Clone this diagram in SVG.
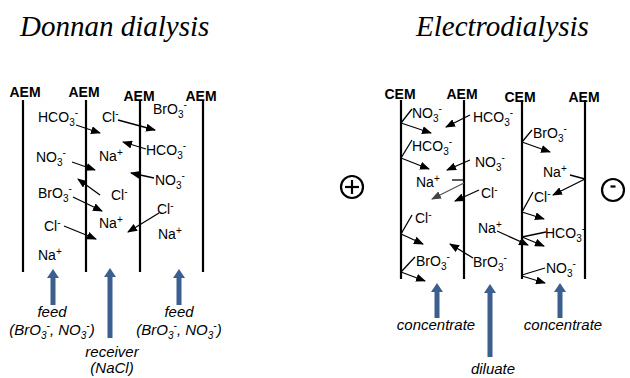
<svg xmlns="http://www.w3.org/2000/svg" width="630" height="378" viewBox="0 0 630 378">
<style>
.title{font-family:"Liberation Serif",serif;font-style:italic;font-size:29px;fill:#000}
.mem{font-family:"Liberation Sans",Arial,sans-serif;font-weight:bold;font-size:14px;text-anchor:middle;fill:#000}
.ion{font-family:"Liberation Sans",Arial,sans-serif;font-size:14px;fill:#000}
.s{font-size:10px}
.lbl{font-family:"Liberation Sans",Arial,sans-serif;font-style:italic;font-size:15px;text-anchor:middle;fill:#000}
.ml{stroke:#000;stroke-width:2.2;fill:none}
.c{stroke:#000;stroke-width:1.3;fill:none}
.ca{stroke:#000;stroke-width:1.3;fill:none;marker-end:url(#ah)}
.cg{stroke:#555;stroke-width:1.3;fill:none;marker-end:url(#ahg)}
.flow{fill:#3C5F90}
.sym{stroke:#000;stroke-width:2.2;fill:none}
</style>
<defs>
<marker id="ah" viewBox="0 0 10 8" refX="9" refY="4" markerWidth="10" markerHeight="8" markerUnits="userSpaceOnUse" orient="auto"><path d="M0,0 L10,4 L0,8 z" fill="#000"/></marker>
<marker id="ahg" viewBox="0 0 10 8" refX="9" refY="4" markerWidth="10" markerHeight="8" markerUnits="userSpaceOnUse" orient="auto"><path d="M0,0 L10,4 L0,8 z" fill="#444"/></marker>
</defs>

<g id="titles">
<text class="title" x="20" y="36">Donnan dialysis</text>
<text class="title" x="416" y="36">Electrodialysis</text>
</g>

<!-- Donnan membranes -->
<g id="dd-aem1"><text class="mem" x="25" y="97">AEM</text><line class="ml" x1="23" y1="100" x2="23" y2="272"/></g>
<g id="dd-aem2"><text class="mem" x="84" y="97">AEM</text><line class="ml" x1="86" y1="100" x2="86" y2="272"/></g>
<g id="dd-aem3"><text class="mem" x="139" y="101">AEM</text><line class="ml" x1="140" y1="100" x2="140" y2="272"/></g>
<g id="dd-aem4"><text class="mem" x="201" y="101">AEM</text><line class="ml" x1="203" y1="100" x2="203" y2="272"/></g>

<!-- Electrodialysis membranes -->
<g id="ed-cem1"><text class="mem" x="400" y="99">CEM</text><line class="ml" x1="401" y1="100" x2="401" y2="279"/></g>
<g id="ed-aem1"><text class="mem" x="462" y="99">AEM</text><line class="ml" x1="464" y1="100" x2="464" y2="279"/></g>
<g id="ed-cem2"><text class="mem" x="520" y="102">CEM</text><line class="ml" x1="522" y1="100" x2="522" y2="279"/></g>
<g id="ed-aem2"><text class="mem" x="584" y="102">AEM</text><line class="ml" x1="585" y1="100" x2="585" y2="279"/></g>

<g id="electrodes">
<g id="anode"><circle class="sym" cx="352" cy="187" r="11"/><line class="sym" x1="345" y1="187" x2="359" y2="187"/><line class="sym" x1="352" y1="180" x2="352" y2="194"/></g>
<g id="cathode"><circle class="sym" cx="613" cy="190" r="11"/><line class="sym" x1="610.5" y1="186.5" x2="615.5" y2="186.5"/></g>
</g>

<!-- Donnan ions -->
<g id="dd-ions">
<text class="ion" x="38" y="122">HCO<tspan class="s" dy="4">3</tspan><tspan class="s" dy="-10">-</tspan></text>
<text class="ion" x="102" y="122">Cl<tspan class="s" dy="-5">-</tspan></text>
<text class="ion" x="153" y="114">BrO<tspan class="s" dy="4">3</tspan><tspan class="s" dy="-10">-</tspan></text>
<text class="ion" x="36" y="162">NO<tspan class="s" dy="4">3</tspan><tspan class="s" dy="-10">-</tspan></text>
<text class="ion" x="99" y="161">Na<tspan class="s" dy="-5">+</tspan></text>
<text class="ion" x="146" y="155">HCO<tspan class="s" dy="4">3</tspan><tspan class="s" dy="-10">-</tspan></text>
<text class="ion" x="155" y="185">NO<tspan class="s" dy="4">3</tspan><tspan class="s" dy="-10">-</tspan></text>
<text class="ion" x="111" y="200">Cl<tspan class="s" dy="-5">-</tspan></text>
<text class="ion" x="38" y="198">BrO<tspan class="s" dy="4">3</tspan><tspan class="s" dy="-10">-</tspan></text>
<text class="ion" x="99" y="228">Na<tspan class="s" dy="-5">+</tspan></text>
<text class="ion" x="157" y="214">Cl<tspan class="s" dy="-5">-</tspan></text>
<text class="ion" x="158" y="239">Na<tspan class="s" dy="-5">+</tspan></text>
<text class="ion" x="44" y="231">Cl<tspan class="s" dy="-5">-</tspan></text>
<text class="ion" x="38" y="260">Na<tspan class="s" dy="-5">+</tspan></text>
</g>

<!-- Electrodialysis ions -->
<g id="ed-ions">
<text class="ion" x="412" y="118">NO<tspan class="s" dy="4">3</tspan><tspan class="s" dy="-10">-</tspan></text>
<text class="ion" x="412" y="151">HCO<tspan class="s" dy="4">3</tspan><tspan class="s" dy="-10">-</tspan></text>
<text class="ion" x="416" y="187">Na<tspan class="s" dy="-5">+</tspan></text>
<text class="ion" x="415" y="223">Cl<tspan class="s" dy="-5">-</tspan></text>
<text class="ion" x="416" y="266">BrO<tspan class="s" dy="4">3</tspan><tspan class="s" dy="-10">-</tspan></text>
<text class="ion" x="473" y="122">HCO<tspan class="s" dy="4">3</tspan><tspan class="s" dy="-10">-</tspan></text>
<text class="ion" x="475" y="167">NO<tspan class="s" dy="4">3</tspan><tspan class="s" dy="-10">-</tspan></text>
<text class="ion" x="481" y="198">Cl<tspan class="s" dy="-5">-</tspan></text>
<text class="ion" x="478" y="233">Na<tspan class="s" dy="-5">+</tspan></text>
<text class="ion" x="473" y="267">BrO<tspan class="s" dy="4">3</tspan><tspan class="s" dy="-10">-</tspan></text>
<text class="ion" x="533" y="138">BrO<tspan class="s" dy="4">3</tspan><tspan class="s" dy="-10">-</tspan></text>
<text class="ion" x="543" y="177">Na<tspan class="s" dy="-5">+</tspan></text>
<text class="ion" x="534" y="202">Cl<tspan class="s" dy="-5">-</tspan></text>
<text class="ion" x="545" y="238">HCO<tspan class="s" dy="4">3</tspan><tspan class="s" dy="-10">-</tspan></text>
<text class="ion" x="546" y="273">NO<tspan class="s" dy="4">3</tspan><tspan class="s" dy="-10">-</tspan></text>
</g>

<g id="connectors">
<!-- Donnan -->
<line class="ca" x1="76" y1="125" x2="100" y2="133"/>
<line class="ca" x1="118" y1="120" x2="155" y2="130"/>
<line class="ca" x1="146" y1="149" x2="123" y2="142"/>
<line class="ca" x1="72" y1="162" x2="95" y2="170"/>
<line class="ca" x1="154" y1="178" x2="131" y2="173"/>
<line class="ca" x1="100" y1="195" x2="78" y2="179"/>
<line class="ca" x1="73" y1="197" x2="102" y2="211"/>
<line class="ca" x1="159" y1="213" x2="128" y2="232"/>
<line class="ca" x1="64" y1="226" x2="96" y2="239"/>
<!-- Electrodialysis, left CEM -->
<line class="c" x1="401" y1="123" x2="412" y2="109"/>
<line class="ca" x1="401" y1="123" x2="431" y2="133"/>
<line class="c" x1="401" y1="158" x2="412" y2="140"/>
<line class="ca" x1="401" y1="158" x2="429" y2="169"/>
<line class="c" x1="401" y1="234" x2="412" y2="215"/>
<line class="ca" x1="401" y1="234" x2="423" y2="244"/>
<line class="c" x1="401" y1="272" x2="415" y2="257"/>
<line class="ca" x1="401" y1="272" x2="425" y2="281"/>
<!-- middle AEM -->
<line class="ca" x1="470" y1="115" x2="446" y2="127"/>
<line class="ca" x1="470" y1="160" x2="447" y2="170"/>
<line class="c" x1="452" y1="180" x2="464" y2="180"/>
<line class="cg" x1="464" y1="183" x2="432" y2="199"/>
<line class="ca" x1="479" y1="190" x2="455" y2="201"/>
<line class="ca" x1="473" y1="258" x2="450" y2="244"/>
<line class="ca" x1="497" y1="231" x2="528" y2="245"/>
<!-- right CEM / AEM -->
<line class="c" x1="522" y1="142" x2="532" y2="130"/>
<line class="ca" x1="522" y1="142" x2="550" y2="152"/>
<line class="c" x1="570" y1="175" x2="585" y2="179"/>
<line class="ca" x1="585" y1="179" x2="553" y2="195"/>
<line class="c" x1="522" y1="212" x2="533" y2="192"/>
<line class="ca" x1="522" y1="212" x2="544" y2="219"/>
<line class="c" x1="522" y1="237" x2="546" y2="232"/>
<line class="ca" x1="522" y1="237" x2="544" y2="246"/>
<line class="c" x1="522" y1="275" x2="545" y2="268"/>
<line class="ca" x1="522" y1="276" x2="545" y2="283"/>
</g>

<g id="flows">
<polygon class="flow" points="50.5,305 50.5,278 47,278 53,269 59,278 55.5,278 55.5,305"/>
<polygon class="flow" points="107.5,338 107.5,277 104,277 110,268 116,277 112.5,277 112.5,338"/>
<polygon class="flow" points="176.5,305 176.5,278 173,278 179,269 185,278 181.5,278 181.5,305"/>
<polygon class="flow" points="434.5,318 434.5,292 431,292 437,283 443,292 439.5,292 439.5,318"/>
<polygon class="flow" points="487.5,357 487.5,293 484,293 490,284 496,293 492.5,293 492.5,357"/>
<polygon class="flow" points="557.5,318 557.5,292 554,292 560,283 566,292 562.5,292 562.5,318"/>
</g>

<g id="flow-labels">
<text class="lbl" x="52" y="317">feed</text>
<text class="lbl" x="52" y="335">(BrO<tspan class="s" dy="4">3</tspan><tspan class="s" dy="-10">-</tspan><tspan dy="6">, NO</tspan><tspan class="s" dy="4">3</tspan><tspan class="s" dy="-10">-</tspan><tspan dy="6">)</tspan></text>
<text class="lbl" x="112" y="357">receiver</text>
<text class="lbl" x="112" y="373">(NaCl)</text>
<text class="lbl" x="179" y="317">feed</text>
<text class="lbl" x="179" y="335">(BrO<tspan class="s" dy="4">3</tspan><tspan class="s" dy="-10">-</tspan><tspan dy="6">, NO</tspan><tspan class="s" dy="4">3</tspan><tspan class="s" dy="-10">-</tspan><tspan dy="6">)</tspan></text>
<text class="lbl" x="436" y="330">concentrate</text>
<text class="lbl" x="493" y="374">diluate</text>
<text class="lbl" x="563" y="330">concentrate</text>
</g>
</svg>
